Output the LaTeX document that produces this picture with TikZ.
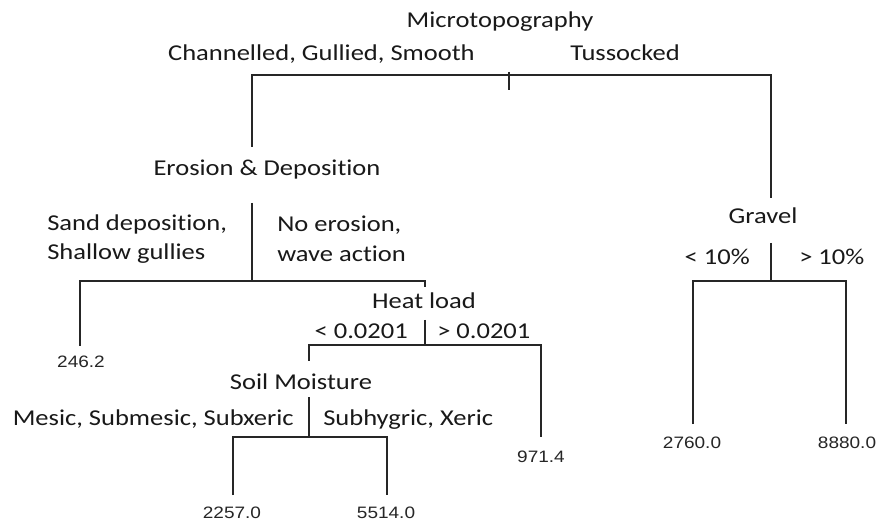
\documentclass[tikz,border=0pt]{standalone}
\usepackage{fontspec}
\newfontfamily\labfont[FakeStretch=1.17,Ligatures=NoCommon]{Carlito}
\newfontfamily\numfont[FakeStretch=1.15]{Liberation Sans}
\begin{document}
\begin{tikzpicture}[x=0.75pt,y=-0.75pt,
  lab/.style={font=\labfont\fontsize{17}{20}\selectfont, inner sep=0pt, text=black!90},
  num/.style={font=\numfont\fontsize{12.4}{14}\selectfont, inner sep=0pt, text=black!85},
  edge/.style={line width=1.3pt, draw=black!85}]
\useasboundingbox[fill=white] (0,0) rectangle (877,523);
% texts
\node[lab, anchor=base] (micro) at (500,28) {Microtopography};
\node[lab, anchor=base east] (chan) at (475,61) {Channelled, Gullied, Smooth};
\node[lab, anchor=base west] (tus) at (570,61) {Tussocked};
\node[lab, anchor=base] (eros) at (267,176) {Erosion \& Deposition};
\node[lab, anchor=base west] (sand1) at (47,231) {Sand deposition,};
\node[lab, anchor=base west] (sand2) at (47,260) {Shallow gullies};
\node[lab, anchor=base west] (noer1) at (277,232) {No erosion,};
\node[lab, anchor=base west] (noer2) at (277,262) {wave action};
\node[num, anchor=base] (v246) at (81,368) {246.2};
\node[lab, anchor=base] (heat) at (424,309) {Heat load};
\node[lab, anchor=base east] (hlo) at (408,339) {< 0.0201};
\node[lab, anchor=base west] (hhi) at (437,339) {> 0.0201};
\node[lab, anchor=base] (soil) at (301,390) {Soil Moisture};
\node[lab, anchor=base east] (mes) at (294,425) {Mesic, Submesic, Subxeric};
\node[lab, anchor=base west] (sub) at (323,425) {Subhygric, Xeric};
\node[num, anchor=base] (v2257) at (232,518) {2257.0};
\node[num, anchor=base] (v5514) at (386,518) {5514.0};
\node[num, anchor=base] (v971) at (541,462) {971.4};
\node[lab, anchor=base] (grav) at (763,224) {Gravel};
\node[lab, anchor=base east] (glo) at (750,265) {< 10\%};
\node[lab, anchor=base west] (ghi) at (799,265) {> 10\%};
\node[num, anchor=base] (v2760) at (692,448) {2760.0};
\node[num, anchor=base] (v8880) at (847,448) {8880.0};
% line points
\coordinate (r1) at (252,75);
\coordinate (r2) at (771,75);
\coordinate (rt1) at (509,72);
\coordinate (rt2) at (509,90);
\coordinate (e1) at (252,147);
\coordinate (e2) at (252,203);
\coordinate (e3) at (252,281);
\coordinate (b1) at (80,281);
\coordinate (b2) at (425,281);
\coordinate (b3) at (425,287);
\coordinate (l1) at (80,346);
\coordinate (h1) at (425,320);
\coordinate (h2) at (425,345);
\coordinate (h3) at (309,345);
\coordinate (h4) at (541,345);
\coordinate (s1) at (309,361);
\coordinate (s2) at (309,397);
\coordinate (s3) at (309,437);
\coordinate (s4) at (233,437);
\coordinate (s5) at (387,437);
\coordinate (s6) at (233,495);
\coordinate (s7) at (387,495);
\coordinate (n1) at (541,437);
\coordinate (g1) at (771,198);
\coordinate (g2) at (771,243);
\coordinate (g3) at (771,281);
\coordinate (g4) at (693,281);
\coordinate (g5) at (846,281);
\coordinate (g6) at (693,424);
\coordinate (g7) at (846,424);
% connectors
\draw[edge] (e1) -- (r1) -- (r2) -- (g1);
\draw[edge] (rt1) -- (rt2);
\draw[edge] (e2) -- (e3);
\draw[edge] (l1) -- (b1) -- (b2) -- (b3);
\draw[edge] (h1) -- (h2);
\draw[edge] (s1) -- (h3) -- (h4) -- (n1);
\draw[edge] (s2) -- (s3);
\draw[edge] (s6) -- (s4) -- (s5) -- (s7);
\draw[edge] (g2) -- (g3);
\draw[edge] (g6) -- (g4) -- (g5) -- (g7);
\end{tikzpicture}
\end{document}
